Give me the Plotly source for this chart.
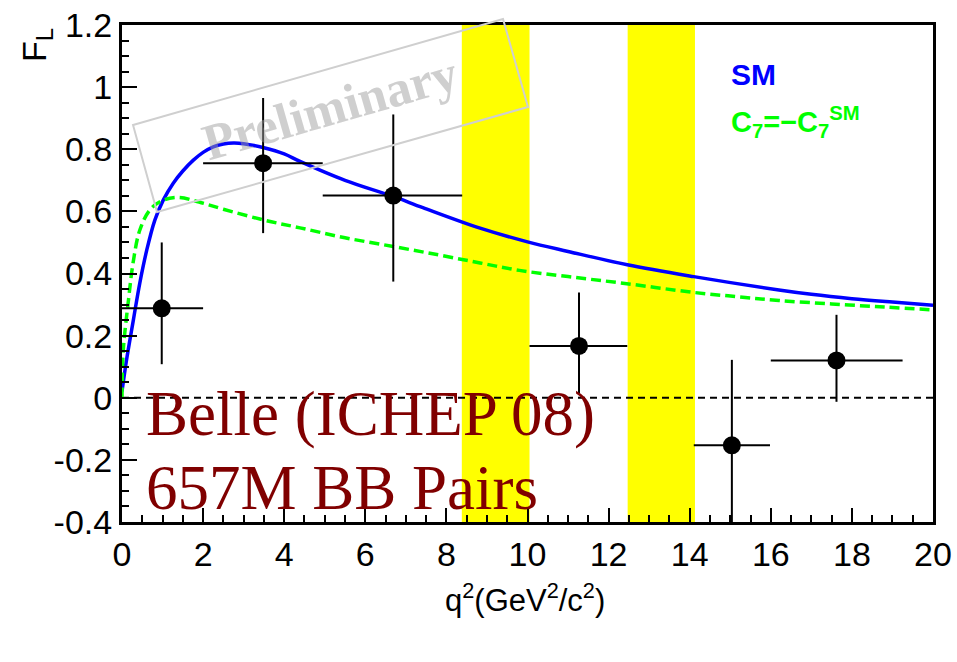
import plotly.graph_objects as go

# Measured longitudinal polarisation fractions per q^2 bin
q2_centre = [0.98, 3.48, 6.69, 11.27, 15.04, 17.62]
q2_low = [0.0, 2.0, 4.95, 10.05, 14.1, 16.0]
q2_high = [2.0, 4.95, 8.39, 12.46, 15.98, 19.25]
fl_value = [0.288, 0.755, 0.651, 0.167, -0.153, 0.12]
fl_err_up = [0.212, 0.21, 0.261, 0.172, 0.275, 0.147]
fl_err_down = [0.18, 0.225, 0.277, 0.153, 0.275, 0.133]

# Standard Model prediction
sm_q2 = [0.0, 0.11, 0.28, 0.44, 0.61, 0.81, 1.02, 1.26, 1.5, 1.76, 2.0, 2.25, 2.5,
         2.75, 3.0, 3.5, 4.0, 4.39, 5.5, 6.69, 7.42, 8.83, 10.0, 11.0, 12.46, 14.1,
         16.2, 17.0, 18.0, 19.0, 20.0]
sm_fl = [0.02, 0.12, 0.25, 0.37, 0.475, 0.572, 0.637, 0.69, 0.73, 0.765, 0.79, 0.808,
         0.817, 0.82, 0.818, 0.805, 0.785, 0.761, 0.70, 0.648, 0.612, 0.546, 0.502,
         0.471, 0.428, 0.39, 0.347, 0.333, 0.319, 0.308, 0.298]

# Flipped-sign C7 scenario
c7_q2 = [0.0, 0.03, 0.16, 0.28, 0.44, 0.69, 1.0, 1.4, 1.9, 2.5, 3.5, 4.39, 5.5, 6.69,
         7.8, 8.83, 9.8, 11.0, 12.4, 14.1, 15.2, 16.2, 17.5, 18.8, 20.0]
c7_fl = [0.0, 0.15, 0.315, 0.44, 0.54, 0.605, 0.635, 0.645, 0.63, 0.607, 0.572, 0.547,
         0.515, 0.487, 0.46, 0.434, 0.41, 0.39, 0.368, 0.339, 0.325, 0.313, 0.302,
         0.292, 0.283]

# Charmonium veto windows
veto_regions = [(8.38, 10.05), (12.47, 14.13)]

y_ticks = [-0.4, -0.2, 0.0, 0.2, 0.4, 0.6, 0.8, 1.0, 1.2]
y_labels = ["-0.4", "-0.2", "0", "0.2", "0.4", "0.6", "0.8", "1", "1.2"]
x_ticks = [0, 2, 4, 6, 8, 10, 12, 14, 16, 18, 20]
x_labels = [str(v) for v in x_ticks]

tick_font = dict(family="Liberation Sans, Arial, sans-serif", size=34, color="black")

fig = go.Figure()

fig.add_trace(go.Scatter(
    x=sm_q2, y=sm_fl, mode="lines", line=dict(color="#0000ff", width=3.5, shape="spline"),
    showlegend=False, hoverinfo="skip"))
fig.add_trace(go.Scatter(
    x=c7_q2, y=c7_fl, mode="lines",
    line=dict(color="#00ff00", width=3.5, dash="10px,5px", shape="spline"),
    showlegend=False, hoverinfo="skip"))

xerr_plus = [h - c for h, c in zip(q2_high, q2_centre)]
xerr_minus = [c - l for c, l in zip(q2_centre, q2_low)]
fig.add_trace(go.Scatter(
    x=q2_centre, y=fl_value, mode="markers",
    marker=dict(color="black", size=18),
    error_x=dict(type="data", array=xerr_plus, arrayminus=xerr_minus, color="black",
                 thickness=2, width=0),
    error_y=dict(type="data", array=fl_err_up, arrayminus=fl_err_down, color="black",
                 thickness=2, width=0),
    showlegend=False, hoverinfo="skip", cliponaxis=True))

shapes = []
for lo, hi in veto_regions:
    shapes.append(dict(type="rect", xref="x", yref="paper", x0=lo, x1=hi, y0=0, y1=1,
                       fillcolor="#ffff00", line=dict(width=0), layer="below"))
shapes.append(dict(type="line", xref="paper", yref="y", x0=0, x1=1, y0=0, y1=0,
                   line=dict(color="black", width=2, dash="7px,5px"), layer="below"))
# "Preliminary" stamp frame
shapes.append(dict(type="path", xref="paper", yref="paper",
                   path="M 0.0136 0.7988 L 0.4698 1.0121 L 0.5006 0.835 L 0.0432 0.6237 Z",
                   line=dict(color="#cfcfcf", width=2), layer="above"))

serif = "Liberation Serif, Times New Roman, serif"
sans = "Liberation Sans, Arial, sans-serif"

annotations = [
    dict(text="Preliminary", xref="paper", yref="paper", x=(330 - 122) / 811,
         y=(522 - 108) / 497, xanchor="center", yanchor="middle",
         showarrow=False, textangle=-16,
         font=dict(family=serif, size=51, color="rgba(160,160,160,0.5)", weight="bold")),
    dict(text="Belle (ICHEP 08)", xref="x", yref="y", x=0.55, y=-0.052, xanchor="left",
         yanchor="middle", showarrow=False,
         font=dict(family=serif, size=63, color="#800000")),
    dict(text="657M BB Pairs", xref="x", yref="y", x=0.55, y=-0.289, xanchor="left",
         yanchor="middle", showarrow=False,
         font=dict(family=serif, size=63, color="#800000")),
    dict(text="<b>SM</b>", xref="paper", yref="paper", x=(729 - 122) / 811, y=(522 - 74) / 497,
         xanchor="left", yanchor="middle", showarrow=False,
         font=dict(family=sans, size=30, color="#0000ff")),
    dict(text="<b>C<sub>7</sub>=\u2212C<sub>7</sub><sup>SM</sup></b>", xref="paper", yref="paper",
         x=(729 - 122) / 811, y=(522 - 122) / 497,
         xanchor="left", yanchor="middle", showarrow=False,
         font=dict(family=sans, size=29, color="#00ff00")),
    dict(text="F<sub>L</sub>", xref="paper", yref="paper", x=(36 - 122) / 811, y=(522 - 45) / 497,
         xanchor="center", yanchor="middle", showarrow=False, textangle=-90,
         font=dict(family=sans, size=34, color="black")),
    dict(text="q<sup>2</sup>(GeV<sup>2</sup>/c<sup>2</sup>)", xref="paper", yref="paper",
         x=(525 - 122) / 811, y=(522 - 598) / 497, xanchor="center", yanchor="middle",
         showarrow=False,
         font=dict(family=sans, size=31, color="black")),
]

fig.update_layout(
    width=957, height=662,
    margin=dict(l=122, r=24, t=25, b=140, pad=0),
    paper_bgcolor="white", plot_bgcolor="white",
    shapes=shapes, annotations=annotations,
    xaxis=dict(range=[0, 20], tickvals=x_ticks, ticktext=x_labels, ticks="inside",
               ticklen=14, tickwidth=2, tickcolor="black", showline=True, linewidth=3,
               linecolor="black", mirror=True, showgrid=False, zeroline=False,
               tickfont=tick_font, automargin=False,
               minor=dict(dtick=0.5, tick0=0, ticks="inside", ticklen=7, tickwidth=2,
                          tickcolor="black", showgrid=False)),
    yaxis=dict(range=[-0.4, 1.2], tickvals=y_ticks, ticktext=y_labels, ticks="inside",
               ticklen=15, tickwidth=2, tickcolor="black", showline=True, linewidth=3,
               linecolor="black", mirror=True, showgrid=False, zeroline=False,
               tickfont=tick_font, automargin=False,
               minor=dict(dtick=0.05, tick0=0, ticks="inside", ticklen=7, tickwidth=2,
                          tickcolor="black", showgrid=False)),
)

fig.write_html("out.html")
